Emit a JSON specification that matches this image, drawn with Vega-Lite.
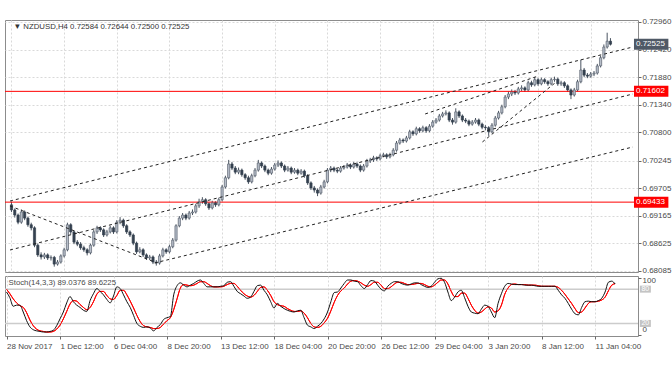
{
"$schema": "https://vega.github.io/schema/vega-lite/v6.json",
"background": "white",
"padding": {"left": 3, "top": 17, "right": 0, "bottom": 0},
"spacing": 4,
"bounds": "flush",
"config": {"view": {"stroke": "#8c8c8c", "strokeWidth": 1}, "font": "Liberation Sans"},
"datasets": {
"bars": [
{"i":0,"o":0.6938,"h":0.6944,"l":0.6924,"c":0.6928,"k":75,"d":80},
{"i":1,"o":0.6928,"h":0.6931,"l":0.6913,"c":0.6918,"k":65,"d":72},
{"i":2,"o":0.6918,"h":0.6921,"l":0.6900,"c":0.6904,"k":50,"d":63},
{"i":3,"o":0.6904,"h":0.6929,"l":0.6901,"c":0.6924,"k":52,"d":56},
{"i":4,"o":0.6924,"h":0.6927,"l":0.6908,"c":0.6912,"k":52,"d":51},
{"i":5,"o":0.6912,"h":0.6915,"l":0.6895,"c":0.6899,"k":40,"d":48},
{"i":6,"o":0.6899,"h":0.6903,"l":0.6888,"c":0.6893,"k":25,"d":39},
{"i":7,"o":0.6893,"h":0.6896,"l":0.6855,"c":0.6859,"k":14,"d":26},
{"i":8,"o":0.6859,"h":0.6862,"l":0.6836,"c":0.6840,"k":9,"d":16},
{"i":9,"o":0.6840,"h":0.6845,"l":0.6831,"c":0.6836,"k":7,"d":10},
{"i":10,"o":0.6836,"h":0.6844,"l":0.6832,"c":0.6840,"k":6,"d":7},
{"i":11,"o":0.6840,"h":0.6843,"l":0.6830,"c":0.6834,"k":5,"d":6},
{"i":12,"o":0.6834,"h":0.6839,"l":0.6829,"c":0.6835,"k":5,"d":5},
{"i":13,"o":0.6835,"h":0.6838,"l":0.6817,"c":0.6822,"k":6,"d":5},
{"i":14,"o":0.6822,"h":0.6830,"l":0.6819,"c":0.6826,"k":8,"d":6},
{"i":15,"o":0.6826,"h":0.6841,"l":0.6823,"c":0.6838,"k":16,"d":10},
{"i":16,"o":0.6838,"h":0.6854,"l":0.6835,"c":0.6850,"k":28,"d":17},
{"i":17,"o":0.6850,"h":0.6903,"l":0.6847,"c":0.6899,"k":40,"d":28},
{"i":18,"o":0.6899,"h":0.6902,"l":0.6881,"c":0.6885,"k":56,"d":41},
{"i":19,"o":0.6885,"h":0.6888,"l":0.6861,"c":0.6865,"k":67,"d":54},
{"i":20,"o":0.6865,"h":0.6869,"l":0.6857,"c":0.6861,"k":58,"d":60},
{"i":21,"o":0.6861,"h":0.6865,"l":0.6850,"c":0.6854,"k":52,"d":59},
{"i":22,"o":0.6854,"h":0.6858,"l":0.6846,"c":0.6850,"k":48,"d":53},
{"i":23,"o":0.6850,"h":0.6853,"l":0.6839,"c":0.6844,"k":43,"d":48},
{"i":24,"o":0.6844,"h":0.6862,"l":0.6841,"c":0.6859,"k":41,"d":44},
{"i":25,"o":0.6859,"h":0.6889,"l":0.6856,"c":0.6885,"k":60,"d":48},
{"i":26,"o":0.6885,"h":0.6897,"l":0.6881,"c":0.6893,"k":72,"d":58},
{"i":27,"o":0.6893,"h":0.6896,"l":0.6885,"c":0.6889,"k":81,"d":71},
{"i":28,"o":0.6889,"h":0.6892,"l":0.6875,"c":0.6879,"k":76,"d":76},
{"i":29,"o":0.6879,"h":0.6889,"l":0.6876,"c":0.6885,"k":70,"d":76},
{"i":30,"o":0.6885,"h":0.6897,"l":0.6882,"c":0.6893,"k":62,"d":69},
{"i":31,"o":0.6893,"h":0.6896,"l":0.6881,"c":0.6885,"k":56,"d":63},
{"i":32,"o":0.6885,"h":0.6908,"l":0.6882,"c":0.6904,"k":68,"d":62},
{"i":33,"o":0.6904,"h":0.6914,"l":0.6900,"c":0.6908,"k":84,"d":69},
{"i":34,"o":0.6908,"h":0.6911,"l":0.6893,"c":0.6897,"k":81,"d":78},
{"i":35,"o":0.6897,"h":0.6900,"l":0.6881,"c":0.6885,"k":70,"d":78},
{"i":36,"o":0.6885,"h":0.6888,"l":0.6875,"c":0.6879,"k":58,"d":70},
{"i":37,"o":0.6879,"h":0.6882,"l":0.6859,"c":0.6863,"k":48,"d":59},
{"i":38,"o":0.6863,"h":0.6866,"l":0.6842,"c":0.6846,"k":34,"d":47},
{"i":39,"o":0.6846,"h":0.6855,"l":0.6843,"c":0.6850,"k":20,"d":34},
{"i":40,"o":0.6850,"h":0.6853,"l":0.6836,"c":0.6840,"k":15,"d":23},
{"i":41,"o":0.6840,"h":0.6843,"l":0.6830,"c":0.6834,"k":13,"d":16},
{"i":42,"o":0.6834,"h":0.6840,"l":0.6830,"c":0.6836,"k":14,"d":14},
{"i":43,"o":0.6836,"h":0.6839,"l":0.6822,"c":0.6826,"k":12,"d":13},
{"i":44,"o":0.6826,"h":0.6830,"l":0.6819,"c":0.6824,"k":7,"d":11},
{"i":45,"o":0.6824,"h":0.6842,"l":0.6821,"c":0.6838,"k":13,"d":11},
{"i":46,"o":0.6838,"h":0.6854,"l":0.6835,"c":0.6850,"k":18,"d":13},
{"i":47,"o":0.6850,"h":0.6853,"l":0.6842,"c":0.6846,"k":27,"d":19},
{"i":48,"o":0.6846,"h":0.6860,"l":0.6843,"c":0.6856,"k":30,"d":25},
{"i":49,"o":0.6856,"h":0.6873,"l":0.6853,"c":0.6869,"k":32,"d":30},
{"i":50,"o":0.6869,"h":0.6900,"l":0.6866,"c":0.6897,"k":70,"d":44},
{"i":51,"o":0.6897,"h":0.6916,"l":0.6894,"c":0.6912,"k":86,"d":63},
{"i":52,"o":0.6912,"h":0.6922,"l":0.6908,"c":0.6918,"k":91,"d":82},
{"i":53,"o":0.6918,"h":0.6921,"l":0.6908,"c":0.6912,"k":87,"d":88},
{"i":54,"o":0.6912,"h":0.6926,"l":0.6909,"c":0.6922,"k":84,"d":87},
{"i":55,"o":0.6922,"h":0.6929,"l":0.6918,"c":0.6924,"k":87,"d":86},
{"i":56,"o":0.6924,"h":0.6940,"l":0.6921,"c":0.6936,"k":90,"d":87},
{"i":57,"o":0.6936,"h":0.6950,"l":0.6932,"c":0.6944,"k":94,"d":90},
{"i":58,"o":0.6944,"h":0.6953,"l":0.6940,"c":0.6948,"k":96,"d":93},
{"i":59,"o":0.6948,"h":0.6951,"l":0.6936,"c":0.6940,"k":90,"d":93},
{"i":60,"o":0.6940,"h":0.6943,"l":0.6928,"c":0.6932,"k":84,"d":90},
{"i":61,"o":0.6932,"h":0.6946,"l":0.6929,"c":0.6942,"k":84,"d":86},
{"i":62,"o":0.6942,"h":0.6945,"l":0.6934,"c":0.6938,"k":84,"d":84},
{"i":63,"o":0.6938,"h":0.6952,"l":0.6935,"c":0.6948,"k":84,"d":84},
{"i":64,"o":0.6948,"h":0.6977,"l":0.6945,"c":0.6973,"k":85,"d":84},
{"i":65,"o":0.6973,"h":0.6995,"l":0.6970,"c":0.6991,"k":86,"d":85},
{"i":66,"o":0.6991,"h":0.7026,"l":0.6988,"c":0.7018,"k":92,"d":88},
{"i":67,"o":0.7018,"h":0.7022,"l":0.7006,"c":0.7010,"k":93,"d":90},
{"i":68,"o":0.7010,"h":0.7014,"l":0.6998,"c":0.7002,"k":85,"d":90},
{"i":69,"o":0.7002,"h":0.7011,"l":0.6998,"c":0.7006,"k":76,"d":85},
{"i":70,"o":0.7006,"h":0.7009,"l":0.6993,"c":0.6997,"k":72,"d":78},
{"i":71,"o":0.6997,"h":0.7000,"l":0.6987,"c":0.6991,"k":68,"d":72},
{"i":72,"o":0.6991,"h":0.6995,"l":0.6979,"c":0.6983,"k":64,"d":68},
{"i":73,"o":0.6983,"h":0.6999,"l":0.6980,"c":0.6995,"k":66,"d":66},
{"i":74,"o":0.6995,"h":0.7010,"l":0.6992,"c":0.7006,"k":76,"d":69},
{"i":75,"o":0.7006,"h":0.7026,"l":0.7003,"c":0.7020,"k":86,"d":76},
{"i":76,"o":0.7020,"h":0.7023,"l":0.7010,"c":0.7014,"k":87,"d":83},
{"i":77,"o":0.7014,"h":0.7017,"l":0.7002,"c":0.7006,"k":78,"d":84},
{"i":78,"o":0.7006,"h":0.7009,"l":0.6996,"c":0.7000,"k":70,"d":78},
{"i":79,"o":0.7000,"h":0.7012,"l":0.6997,"c":0.7008,"k":58,"d":69},
{"i":80,"o":0.7008,"h":0.7020,"l":0.7005,"c":0.7016,"k":47,"d":58},
{"i":81,"o":0.7016,"h":0.7025,"l":0.7012,"c":0.7020,"k":55,"d":53},
{"i":82,"o":0.7020,"h":0.7023,"l":0.7010,"c":0.7014,"k":50,"d":51},
{"i":83,"o":0.7014,"h":0.7017,"l":0.7002,"c":0.7006,"k":46,"d":50},
{"i":84,"o":0.7006,"h":0.7014,"l":0.7003,"c":0.7010,"k":43,"d":46},
{"i":85,"o":0.7010,"h":0.7013,"l":0.6998,"c":0.7002,"k":41,"d":43},
{"i":86,"o":0.7002,"h":0.7010,"l":0.6999,"c":0.7006,"k":40,"d":41},
{"i":87,"o":0.7006,"h":0.7009,"l":0.6996,"c":0.7000,"k":42,"d":41},
{"i":88,"o":0.7000,"h":0.7008,"l":0.6997,"c":0.7004,"k":43,"d":42},
{"i":89,"o":0.7004,"h":0.7007,"l":0.6991,"c":0.6995,"k":30,"d":38},
{"i":90,"o":0.6995,"h":0.6998,"l":0.6977,"c":0.6981,"k":17,"d":30},
{"i":91,"o":0.6981,"h":0.6984,"l":0.6967,"c":0.6971,"k":14,"d":20},
{"i":92,"o":0.6971,"h":0.6975,"l":0.6962,"c":0.6967,"k":11,"d":14},
{"i":93,"o":0.6967,"h":0.6970,"l":0.6955,"c":0.6961,"k":15,"d":13},
{"i":94,"o":0.6961,"h":0.6977,"l":0.6958,"c":0.6973,"k":20,"d":15},
{"i":95,"o":0.6973,"h":0.6987,"l":0.6970,"c":0.6983,"k":28,"d":21},
{"i":96,"o":0.6983,"h":0.7010,"l":0.6980,"c":0.7006,"k":40,"d":29},
{"i":97,"o":0.7006,"h":0.7014,"l":0.7002,"c":0.7010,"k":58,"d":42},
{"i":98,"o":0.7010,"h":0.7013,"l":0.7002,"c":0.7006,"k":74,"d":57},
{"i":99,"o":0.7006,"h":0.7009,"l":0.7000,"c":0.7004,"k":75,"d":69},
{"i":100,"o":0.7004,"h":0.7014,"l":0.7001,"c":0.7010,"k":82,"d":77},
{"i":101,"o":0.7010,"h":0.7016,"l":0.7007,"c":0.7012,"k":90,"d":82},
{"i":102,"o":0.7012,"h":0.7020,"l":0.7009,"c":0.7016,"k":96,"d":89},
{"i":103,"o":0.7016,"h":0.7019,"l":0.7008,"c":0.7012,"k":96,"d":94},
{"i":104,"o":0.7012,"h":0.7022,"l":0.7009,"c":0.7018,"k":94,"d":95},
{"i":105,"o":0.7018,"h":0.7021,"l":0.7010,"c":0.7014,"k":93,"d":94},
{"i":106,"o":0.7014,"h":0.7017,"l":0.7002,"c":0.7006,"k":86,"d":91},
{"i":107,"o":0.7006,"h":0.7018,"l":0.7003,"c":0.7014,"k":81,"d":87},
{"i":108,"o":0.7014,"h":0.7028,"l":0.7011,"c":0.7024,"k":88,"d":85},
{"i":109,"o":0.7024,"h":0.7030,"l":0.7020,"c":0.7026,"k":95,"d":88},
{"i":110,"o":0.7026,"h":0.7034,"l":0.7022,"c":0.7030,"k":94,"d":92},
{"i":111,"o":0.7030,"h":0.7033,"l":0.7024,"c":0.7028,"k":87,"d":92},
{"i":112,"o":0.7028,"h":0.7038,"l":0.7025,"c":0.7034,"k":80,"d":87},
{"i":113,"o":0.7034,"h":0.7040,"l":0.7031,"c":0.7036,"k":77,"d":81},
{"i":114,"o":0.7036,"h":0.7039,"l":0.7028,"c":0.7032,"k":85,"d":81},
{"i":115,"o":0.7032,"h":0.7040,"l":0.7029,"c":0.7036,"k":90,"d":84},
{"i":116,"o":0.7036,"h":0.7049,"l":0.7033,"c":0.7045,"k":93,"d":89},
{"i":117,"o":0.7045,"h":0.7063,"l":0.7042,"c":0.7059,"k":93,"d":92},
{"i":118,"o":0.7059,"h":0.7069,"l":0.7056,"c":0.7065,"k":90,"d":92},
{"i":119,"o":0.7065,"h":0.7068,"l":0.7059,"c":0.7063,"k":88,"d":90},
{"i":120,"o":0.7063,"h":0.7073,"l":0.7060,"c":0.7069,"k":87,"d":88},
{"i":121,"o":0.7069,"h":0.7085,"l":0.7066,"c":0.7081,"k":89,"d":88},
{"i":122,"o":0.7081,"h":0.7084,"l":0.7073,"c":0.7077,"k":91,"d":89},
{"i":123,"o":0.7077,"h":0.7091,"l":0.7074,"c":0.7087,"k":91,"d":90},
{"i":124,"o":0.7087,"h":0.7090,"l":0.7079,"c":0.7083,"k":88,"d":90},
{"i":125,"o":0.7083,"h":0.7093,"l":0.7080,"c":0.7089,"k":85,"d":88},
{"i":126,"o":0.7089,"h":0.7092,"l":0.7079,"c":0.7083,"k":83,"d":85},
{"i":127,"o":0.7083,"h":0.7096,"l":0.7080,"c":0.7092,"k":85,"d":84},
{"i":128,"o":0.7092,"h":0.7104,"l":0.7089,"c":0.7100,"k":92,"d":87},
{"i":129,"o":0.7100,"h":0.7108,"l":0.7097,"c":0.7104,"k":98,"d":92},
{"i":130,"o":0.7104,"h":0.7116,"l":0.7101,"c":0.7112,"k":99,"d":96},
{"i":131,"o":0.7112,"h":0.7120,"l":0.7109,"c":0.7116,"k":92,"d":96},
{"i":132,"o":0.7116,"h":0.7123,"l":0.7113,"c":0.7118,"k":75,"d":89},
{"i":133,"o":0.7118,"h":0.7121,"l":0.7100,"c":0.7104,"k":60,"d":76},
{"i":134,"o":0.7104,"h":0.7108,"l":0.7095,"c":0.7100,"k":66,"d":67},
{"i":135,"o":0.7100,"h":0.7127,"l":0.7097,"c":0.7120,"k":75,"d":67},
{"i":136,"o":0.7120,"h":0.7123,"l":0.7108,"c":0.7112,"k":78,"d":73},
{"i":137,"o":0.7112,"h":0.7115,"l":0.7100,"c":0.7104,"k":65,"d":73},
{"i":138,"o":0.7104,"h":0.7108,"l":0.7098,"c":0.7102,"k":50,"d":64},
{"i":139,"o":0.7102,"h":0.7105,"l":0.7092,"c":0.7096,"k":40,"d":52},
{"i":140,"o":0.7096,"h":0.7104,"l":0.7093,"c":0.7100,"k":38,"d":43},
{"i":141,"o":0.7100,"h":0.7108,"l":0.7097,"c":0.7104,"k":37,"d":38},
{"i":142,"o":0.7104,"h":0.7107,"l":0.7092,"c":0.7096,"k":45,"d":40},
{"i":143,"o":0.7096,"h":0.7099,"l":0.7086,"c":0.7090,"k":52,"d":45},
{"i":144,"o":0.7090,"h":0.7094,"l":0.7084,"c":0.7089,"k":50,"d":49},
{"i":145,"o":0.7089,"h":0.7092,"l":0.7073,"c":0.7081,"k":40,"d":47},
{"i":146,"o":0.7081,"h":0.7098,"l":0.7078,"c":0.7094,"k":30,"d":40},
{"i":147,"o":0.7094,"h":0.7112,"l":0.7091,"c":0.7108,"k":55,"d":42},
{"i":148,"o":0.7108,"h":0.7122,"l":0.7105,"c":0.7118,"k":72,"d":52},
{"i":149,"o":0.7118,"h":0.7134,"l":0.7115,"c":0.7130,"k":85,"d":71},
{"i":150,"o":0.7130,"h":0.7153,"l":0.7127,"c":0.7149,"k":90,"d":82},
{"i":151,"o":0.7149,"h":0.7160,"l":0.7145,"c":0.7155,"k":89,"d":88},
{"i":152,"o":0.7155,"h":0.7164,"l":0.7151,"c":0.7159,"k":88,"d":89},
{"i":153,"o":0.7159,"h":0.7163,"l":0.7153,"c":0.7157,"k":88,"d":88},
{"i":154,"o":0.7157,"h":0.7169,"l":0.7154,"c":0.7165,"k":88,"d":88},
{"i":155,"o":0.7165,"h":0.7172,"l":0.7161,"c":0.7167,"k":87,"d":88},
{"i":156,"o":0.7167,"h":0.7170,"l":0.7159,"c":0.7163,"k":87,"d":87},
{"i":157,"o":0.7163,"h":0.7181,"l":0.7160,"c":0.7177,"k":87,"d":87},
{"i":158,"o":0.7177,"h":0.7181,"l":0.7169,"c":0.7173,"k":86,"d":87},
{"i":159,"o":0.7173,"h":0.7188,"l":0.7170,"c":0.7183,"k":85,"d":86},
{"i":160,"o":0.7183,"h":0.7186,"l":0.7171,"c":0.7175,"k":85,"d":85},
{"i":161,"o":0.7175,"h":0.7187,"l":0.7172,"c":0.7183,"k":85,"d":85},
{"i":162,"o":0.7183,"h":0.7186,"l":0.7175,"c":0.7179,"k":85,"d":85},
{"i":163,"o":0.7179,"h":0.7182,"l":0.7171,"c":0.7175,"k":85,"d":85},
{"i":164,"o":0.7175,"h":0.7187,"l":0.7172,"c":0.7183,"k":85,"d":85},
{"i":165,"o":0.7183,"h":0.7189,"l":0.7179,"c":0.7184,"k":78,"d":83},
{"i":166,"o":0.7184,"h":0.7187,"l":0.7171,"c":0.7175,"k":70,"d":78},
{"i":167,"o":0.7175,"h":0.7181,"l":0.7171,"c":0.7177,"k":64,"d":71},
{"i":168,"o":0.7177,"h":0.7180,"l":0.7167,"c":0.7171,"k":55,"d":63},
{"i":169,"o":0.7171,"h":0.7174,"l":0.7159,"c":0.7163,"k":45,"d":55},
{"i":170,"o":0.7163,"h":0.7166,"l":0.7145,"c":0.7153,"k":37,"d":46},
{"i":171,"o":0.7153,"h":0.7167,"l":0.7150,"c":0.7163,"k":35,"d":39},
{"i":172,"o":0.7163,"h":0.7183,"l":0.7160,"c":0.7179,"k":48,"d":40},
{"i":173,"o":0.7179,"h":0.7222,"l":0.7176,"c":0.7202,"k":58,"d":47},
{"i":174,"o":0.7202,"h":0.7206,"l":0.7188,"c":0.7192,"k":59,"d":55},
{"i":175,"o":0.7192,"h":0.7196,"l":0.7186,"c":0.7190,"k":58,"d":58},
{"i":176,"o":0.7190,"h":0.7198,"l":0.7187,"c":0.7194,"k":58,"d":58},
{"i":177,"o":0.7194,"h":0.7200,"l":0.7190,"c":0.7196,"k":60,"d":59},
{"i":178,"o":0.7196,"h":0.7214,"l":0.7193,"c":0.7210,"k":64,"d":61},
{"i":179,"o":0.7210,"h":0.7230,"l":0.7207,"c":0.7226,"k":75,"d":66},
{"i":180,"o":0.7226,"h":0.7252,"l":0.7223,"c":0.7247,"k":92,"d":77},
{"i":181,"o":0.7247,"h":0.7275,"l":0.7244,"c":0.72584,"k":94,"d":87},
{"i":182,"o":0.72584,"h":0.72644,"l":0.72500,"c":0.72525,"k":89.04,"d":89.62}
],
"tl": [
{"id":"upper","i":-0.45,"p":0.69455},{"id":"upper","i":188.85,"p":0.72471},
{"id":"middle","i":-0.45,"p":0.68496},{"id":"middle","i":188.85,"p":0.71551},
{"id":"lower","i":43.5,"p":0.68242},{"id":"lower","i":188.85,"p":0.70513},
{"id":"desc","i":-0.45,"p":0.69358},{"id":"desc","i":43.5,"p":0.68261},
{"id":"steep","i":143.1,"p":0.70611},{"id":"steep","i":165.5,"p":0.71785},
{"id":"upper2","i":125.7,"p":0.71159},{"id":"upper2","i":160.1,"p":0.71903}
],
"tags": [
{"v":0.72525,"t":"0.72525","bg":"#4f5966"},
{"v":0.71602,"t":"0.71602","bg":"#ff0000"},
{"v":0.69433,"t":"0.69433","bg":"#ff0000"}
],
"lev": [{"v":80,"t":"80"},{"v":20,"t":"20"}]
},
"vconcat": [
{
"width": 633, "height": 252,
"encoding": {
"y": {"type": "quantitative", "scale": {"domain": [0.68065, 0.72999], "nice": false, "zero": false},
 "axis": {"orient": "right", "title": null, "values": [0.68085,0.68625,0.69165,0.69705,0.70245,0.708,0.7134,0.7188,0.7242,0.7296], "format": ".5f", "grid": true, "gridColor": "#d9d9d9", "gridDash": [2,2], "domain": false, "tickSize": 3, "tickColor": "#666666", "labelPadding": 1, "labelFont": "Liberation Sans", "labelFontSize": 8, "labelColor": "#4a4a4a"}}
},
"layer": [
{"data": {"name": "bars"}, "mark": {"type": "rule", "color": "#4a5461", "strokeWidth": 1},
 "encoding": {
  "x": {"field": "i", "type": "quantitative", "title": null, "scale": {"domain": [-0.45, 188.85], "nice": false, "zero": false},
   "axis": {"values": [0,16,32,48,64,80,96,112,128,144,160,176], "labels": false, "ticks": false, "domain": false, "title": null, "grid": true, "gridColor": "#d9d9d9", "gridDash": [2,2], "minExtent": 0, "maxExtent": 0, "labelPadding": 0}},
  "y": {"field": "l", "type": "quantitative"}, "y2": {"field": "h"}}},
{"data": {"values": [{"v": 0.71602}, {"v": 0.69433}]}, "mark": {"type": "rule", "color": "#ff0000", "strokeWidth": 1}, "encoding": {"y": {"field": "v", "type": "quantitative"}}},
{"data": {"name": "bars"}, "mark": {"type": "bar", "size": 2.2, "strokeWidth": 0.7},
 "encoding": {"x": {"field": "i", "type": "quantitative", "title": null}, "y": {"field": "o", "type": "quantitative"}, "y2": {"field": "c"},
  "fill": {"condition": {"test": "datum.c >= datum.o", "value": "#b7bec9"}, "value": "#34404f"},
  "stroke": {"condition": {"test": "datum.c >= datum.o", "value": "#5a6370"}, "value": "#34404f"}}},
{"data": {"name": "tl"}, "mark": {"type": "line", "color": "#222222", "strokeWidth": 1, "strokeDash": [3,3]},
 "encoding": {"x": {"field": "i", "type": "quantitative", "title": null}, "y": {"field": "p", "type": "quantitative"}, "detail": {"field": "id"}}},
{"data": {"values": [{"t": "▼ NZDUSD,H4  0.72584 0.72644 0.72500 0.72525"}]}, "mark": {"type": "text", "align": "left", "baseline": "middle", "font": "Liberation Sans", "fontSize": 7.8, "color": "#333333"},
 "encoding": {"x": {"datum": 0.6, "type": "quantitative", "title": null}, "y": {"datum": 0.72862}, "text": {"field": "t"}}},
{"data": {"name": "tags"}, "mark": {"type": "rect", "height": 11},
 "encoding": {"x": {"datum": 189.15, "type": "quantitative", "title": null}, "x2": {"datum": 199.6}, "y": {"field": "v", "type": "quantitative"}, "fill": {"field": "bg", "type": "nominal", "scale": null}}},
{"data": {"name": "tags"}, "mark": {"type": "text", "align": "left", "baseline": "middle", "font": "Liberation Sans", "fontSize": 8, "color": "white"},
 "encoding": {"x": {"datum": 189.75, "type": "quantitative", "title": null}, "y": {"field": "v", "type": "quantitative"}, "text": {"field": "t"}}}
]
},
{
"width": 633, "height": 60,
"encoding": {
"y": {"type": "quantitative", "scale": {"domain": [-2, 103], "nice": false, "zero": false},
 "axis": {"orient": "right", "title": null, "values": [0, 100], "grid": false, "domain": false, "tickSize": 3, "tickColor": "#666666", "labelPadding": 1, "labelFont": "Liberation Sans", "labelFontSize": 8, "labelColor": "#4a4a4a", "labelOffset": -1.5,
  "labelBaseline": {"condition": {"test": "datum.value > 50", "value": "top"}, "value": "bottom"}}}
},
"layer": [
{"data": {"name": "bars"}, "mark": {"type": "line", "color": "#ff0000", "strokeWidth": 1, "interpolate": "monotone"},
 "encoding": {
  "x": {"field": "i", "type": "quantitative", "title": null, "scale": {"domain": [-0.45, 188.85], "nice": false, "zero": false},
   "axis": {"values": [0,16,32,48,64,80,96,112,128,144,160,176], "title": null, "grid": true, "gridColor": "#d9d9d9", "gridDash": [2,2], "domain": false, "tickSize": 3, "tickColor": "#666666", "labelAlign": "left", "labelPadding": 3, "labelFont": "Liberation Sans", "labelFontSize": 8, "labelColor": "#4a4a4a",
    "labelExpr": "['28 Nov 2017','1 Dec 12:00','6 Dec 04:00','8 Dec 20:00','13 Dec 12:00','18 Dec 04:00','20 Dec 20:00','26 Dec 12:00','29 Dec 04:00','3 Jan 20:00','8 Jan 12:00','11 Jan 04:00'][round(datum.value/16)]"}},
  "y": {"field": "d", "type": "quantitative"}}},
{"data": {"name": "lev"}, "mark": {"type": "rule", "color": "#cccccc", "strokeWidth": 1.5}, "encoding": {"y": {"field": "v", "type": "quantitative"}}},
{"data": {"name": "bars"}, "mark": {"type": "line", "color": "#ff0000", "strokeWidth": 1, "interpolate": "monotone"},
 "encoding": {"x": {"field": "i", "type": "quantitative", "title": null}, "y": {"field": "d", "type": "quantitative"}}},
{"data": {"name": "bars"}, "mark": {"type": "line", "color": "#111111", "strokeWidth": 1, "interpolate": "monotone"},
 "encoding": {"x": {"field": "i", "type": "quantitative", "title": null}, "y": {"field": "k", "type": "quantitative"}}},
{"data": {"values": [{"t": "Stoch(14,3,3) 89.0376 89.6225"}]}, "mark": {"type": "text", "align": "left", "baseline": "middle", "font": "Liberation Sans", "fontSize": 7.8, "color": "#4a4a4a"},
 "encoding": {"x": {"datum": 0.6, "type": "quantitative", "title": null}, "y": {"datum": 90}, "text": {"field": "t"}}},
{"data": {"name": "lev"}, "mark": {"type": "rect", "height": 7, "color": "#c4c4c4"},
 "encoding": {"x": {"datum": 189.4, "type": "quantitative", "title": null}, "x2": {"datum": 192.7}, "y": {"field": "v", "type": "quantitative"}}},
{"data": {"name": "lev"}, "mark": {"type": "text", "align": "center", "baseline": "middle", "font": "Liberation Sans", "fontSize": 7, "color": "white"},
 "encoding": {"x": {"datum": 191.05, "type": "quantitative", "title": null}, "y": {"field": "v", "type": "quantitative"}, "text": {"field": "t"}}}
]
}
]
}
